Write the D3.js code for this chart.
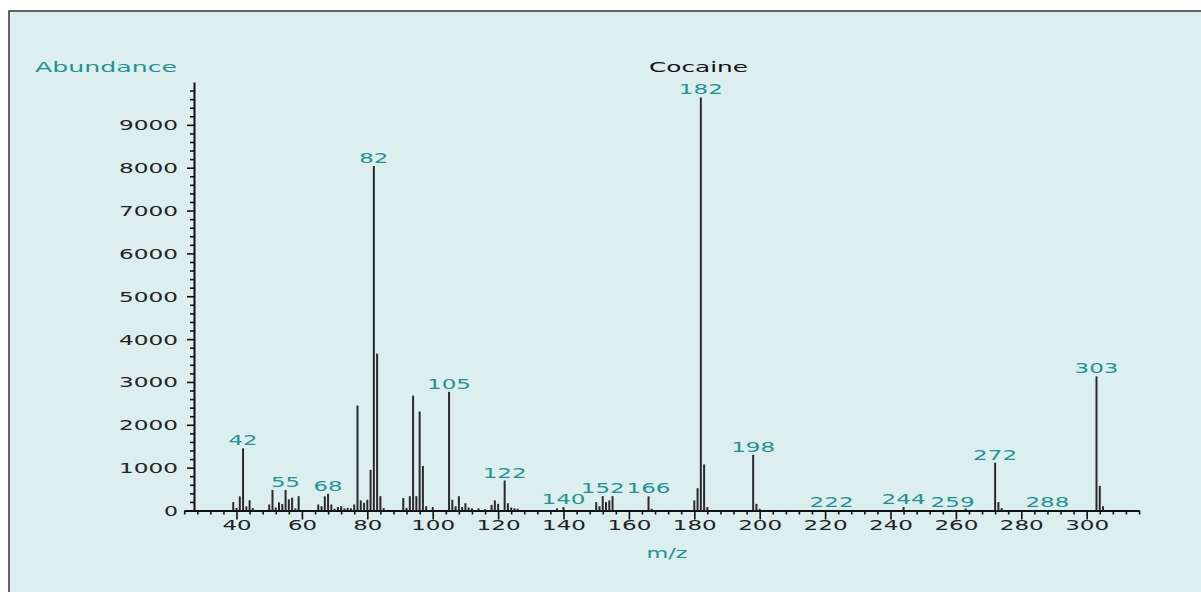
<!DOCTYPE html>
<html><head><meta charset="utf-8">
<script src="https://cdn.jsdelivr.net/npm/d3@7/dist/d3.min.js"></script>
<style>html,body{margin:0;padding:0;background:#fff;} svg{display:block}</style>
</head><body><svg id="c" width="1201" height="592"></svg>
<script>
// ---- data ----
const massValues = [39,40,41,42,43,44,45,50,51,52,53,54,55,56,57,58,59,65,66,67,68,69,70,71,72,73,74,75,76,77,78,79,80,81,82,83,84,85,91,92,93,94,95,96,97,98,100,105,106,107,108,109,110,111,112,114,116,118,119,120,122,123,124,125,126,138,140,150,151,152,153,154,155,166,167,180,181,182,183,184,198,199,200,222,244,259,263,272,273,274,288,303,304,305];
const abundanceValues = [195,60,330,1450,95,240,55,140,480,70,190,150,480,260,300,50,335,140,100,330,390,140,40,80,100,50,60,50,140,2450,235,180,250,950,8040,3660,335,55,290,60,335,2680,335,2310,1040,100,80,2770,250,100,335,80,170,70,50,50,30,130,235,155,700,170,70,50,40,50,80,195,100,335,195,235,335,330,40,235,520,9640,1075,80,1300,155,40,8,80,5,45,1115,195,55,8,3130,575,100];
const labeledMasses = [42,55,68,82,105,122,140,152,166,182,198,222,244,259,272,288,303];
const xTickValues = d3.range(24, 317, 4);
const xTickLabels = [40,60,80,100,120,140,160,180,200,220,240,260,280,300];
const yTickValues = d3.range(0, 9801, 200);
const yTickLabels = [0,1000,2000,3000,4000,5000,6000,7000,8000,9000];
const chartTitle = "Cocaine";
const yTitle = "Abundance";
const xTitle = "m/z";

// ---- drawing ----
const svg = d3.select("#c");
const teal = "#1f9494", ink = "#222";
const FONT = "DejaVu Sans";

svg.append("rect").attr("x",9).attr("y",11).attr("width",1210).attr("height",600)
  .attr("fill","#ddeeee").attr("stroke","#333").attr("stroke-width",1.5);

const x = d3.scaleLinear().domain([24,316]).range([184.2,1139]);
const y = d3.scaleLinear().domain([0,10000]).range([510.5,82]);

function stretch(sel, pitch){
  sel.each(function(){
    const n = this.textContent.length;
    if(n>0){ this.setAttribute("textLength", n*pitch-1); this.setAttribute("lengthAdjust","spacingAndGlyphs"); }
  });
}

// x axis
const xAxis = d3.axisBottom(x).tickValues(xTickValues).tickSizeInner(4).tickSizeOuter(0).tickPadding(0)
  .tickFormat(d => xTickLabels.includes(d) ? String(d) : "");
const gx = svg.append("g").attr("transform","translate(0,510.5)").call(xAxis);
gx.select(".domain").attr("stroke","#111").attr("stroke-width",2);
gx.selectAll(".tick line").attr("stroke","#111").attr("stroke-width",1.6)
  .attr("y2", d => xTickLabels.includes(d) ? 9 : 4);
gx.selectAll(".tick text").attr("y",19.5).attr("dy",null).attr("fill",ink)
  .attr("font-family",FONT).attr("font-size",14).call(stretch,15);

// y axis
const yAxis = d3.axisLeft(y).tickValues(yTickValues).tickSizeInner(4).tickSizeOuter(0).tickPadding(0)
  .tickFormat(d => yTickLabels.includes(d) ? String(d) : "");
const gy = svg.append("g").attr("transform","translate(194,0)").call(yAxis);
gy.select(".domain").attr("stroke","#111").attr("stroke-width",2);
gy.selectAll(".tick line").attr("stroke","#111").attr("stroke-width",1.6)
  .attr("x2", d => yTickLabels.includes(d) ? -7 : -4);
gy.selectAll(".tick text").attr("x",-16).attr("dy","0.36em").attr("fill",ink)
  .attr("font-family",FONT).attr("font-size",14).call(stretch,15);

// peaks
const peaks = massValues.map((m,i)=>({m, v:abundanceValues[i]}));
svg.append("g").selectAll("line").data(peaks).join("line")
  .attr("x1",d=>x(d.m)).attr("x2",d=>x(d.m))
  .attr("y1",y(0)).attr("y2",d=>y(d.v))
  .attr("stroke","#2a2a2a").attr("stroke-width",2);

// peak labels
const labeled = peaks.filter(d=>labeledMasses.includes(d.m));
svg.append("g").selectAll("text").data(labeled).join("text")
  .attr("x",d=>x(d.m)).attr("y",d=>y(d.v)-3)
  .attr("text-anchor","middle").attr("fill",teal)
  .attr("font-family",FONT).attr("font-size",14)
  .text(d=>d.m).call(stretch,15);

// titles
svg.append("text").attr("x",35).attr("y",71.5).attr("fill",teal)
  .attr("font-family",FONT).attr("font-size",14).text(yTitle)
  .attr("textLength",142).attr("lengthAdjust","spacingAndGlyphs");
svg.append("text").attr("x",649).attr("y",71.5).attr("fill","#111")
  .attr("font-family",FONT).attr("font-size",14).text(chartTitle)
  .attr("textLength",99).attr("lengthAdjust","spacingAndGlyphs");
svg.append("text").attr("x",646.5).attr("y",558).attr("fill",teal)
  .attr("font-family",FONT).attr("font-size",14).text(xTitle)
  .attr("textLength",41).attr("lengthAdjust","spacingAndGlyphs");
</script>
</body></html>
